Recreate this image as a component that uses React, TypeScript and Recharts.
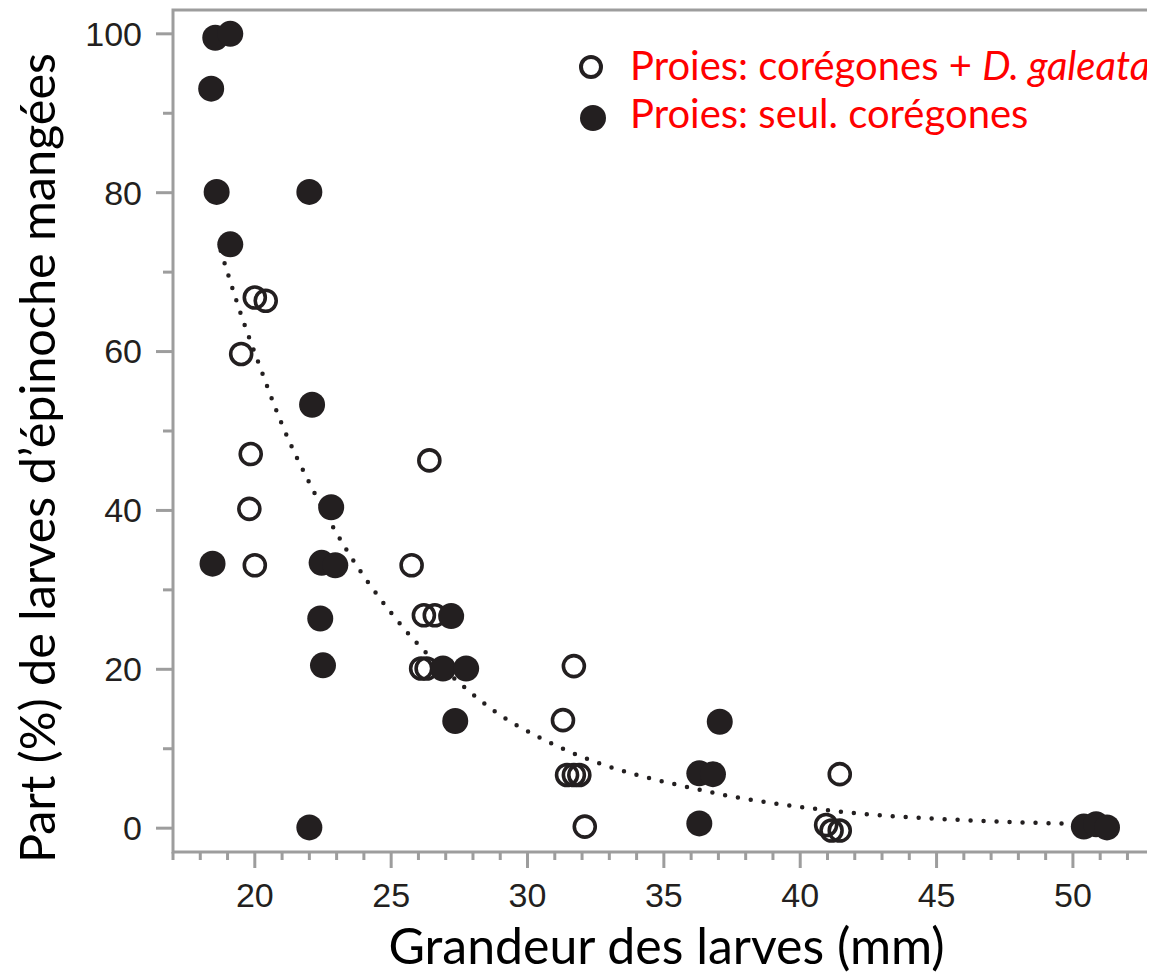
import React from "react";
import {
  ScatterChart,
  Scatter,
  XAxis,
  YAxis,
  ReferenceArea,
  Legend,
} from "recharts";

// Proies: corégones + D. galeata (open circles) — [size mm, % eaten]
const mixedPrey = [
  { x: 20.0, y: 66.8 },
  { x: 20.4, y: 66.4 },
  { x: 19.5, y: 59.7 },
  { x: 19.85, y: 47.1 },
  { x: 19.8, y: 40.2 },
  { x: 20.0, y: 33.1 },
  { x: 26.4, y: 46.3 },
  { x: 25.75, y: 33.1 },
  { x: 26.2, y: 26.8 },
  { x: 26.6, y: 26.8 },
  { x: 26.1, y: 20.1 },
  { x: 26.3, y: 20.1 },
  { x: 31.7, y: 20.4 },
  { x: 31.3, y: 13.6 },
  { x: 31.45, y: 6.7 },
  { x: 31.7, y: 6.7 },
  { x: 31.9, y: 6.7 },
  { x: 32.1, y: 0.2 },
  { x: 41.45, y: 6.8 },
  { x: 40.95, y: 0.4 },
  { x: 41.15, y: -0.3 },
  { x: 41.45, y: -0.3 },
];

// Proies: seul. corégones (filled circles)
const whitefishOnly = [
  { x: 18.55, y: 99.5 },
  { x: 19.1, y: 100 },
  { x: 18.4, y: 93.1 },
  { x: 18.6, y: 80.1 },
  { x: 22.0, y: 80.1 },
  { x: 19.1, y: 73.5 },
  { x: 22.1, y: 53.3 },
  { x: 22.8, y: 40.4 },
  { x: 18.45, y: 33.3 },
  { x: 22.45, y: 33.4 },
  { x: 22.95, y: 33.1 },
  { x: 22.4, y: 26.4 },
  { x: 22.5, y: 20.5 },
  { x: 22.0, y: 0.1 },
  { x: 27.2, y: 26.7 },
  { x: 26.9, y: 20.1 },
  { x: 27.75, y: 20.1 },
  { x: 27.35, y: 13.5 },
  { x: 37.05, y: 13.4 },
  { x: 36.3, y: 6.9 },
  { x: 36.8, y: 6.8 },
  { x: 36.3, y: 0.6 },
  { x: 50.4, y: 0.2 },
  { x: 50.85, y: 0.5 },
  { x: 51.25, y: 0.1 },
];

// dotted trend curve
const trend = [
  { x: 18.75, y: 72.7 },
  { x: 19.55, y: 64.1 },
  { x: 20.1, y: 58.9 },
  { x: 21.0, y: 50.8 },
  { x: 22.1, y: 42.8 },
  { x: 23.3, y: 35.4 },
  { x: 25.0, y: 27.1 },
  { x: 26.05, y: 22.9 },
  { x: 27.6, y: 18.0 },
  { x: 28.8, y: 14.7 },
  { x: 30.5, y: 11.3 },
  { x: 31.7, y: 9.4 },
  { x: 36.35, y: 4.8 },
  { x: 41.15, y: 2.2 },
  { x: 46.1, y: 1.0 },
  { x: 50.0, y: 0.55 },
];

const xTicks = [
  17, 18, 19, 20, 21, 22, 23, 24, 25, 26, 27, 28, 29, 30, 31, 32, 33, 34, 35,
  36, 37, 38, 39, 40, 41, 42, 43, 44, 45, 46, 47, 48, 49, 50, 51, 52,
];
const yTicks = [0, 10, 20, 30, 40, 50, 60, 70, 80, 90, 100];

const INK = "#231f20";
const AXIS = "#9d9d9d";
const TICK_FONT = "'Liberation Sans', Arial, sans-serif";
const LABEL_FONT = "Lato, 'Open Sans', sans-serif";

function XTick({ x, y, payload }: any) {
  const v = payload.value;
  const major = v % 5 === 0;
  return (
    <g>
      <line x1={x} x2={x} y1={y} y2={y + (major ? 16 : 8)} stroke={AXIS} strokeWidth={3} />
      {major ? (
        <text x={x} y={y + 55} textAnchor="middle" fontSize={34} fontFamily={TICK_FONT} fill={INK}>
          {v}
        </text>
      ) : null}
    </g>
  );
}

function YTick({ x, y, payload }: any) {
  const v = payload.value;
  const major = v % 20 === 0;
  return (
    <g>
      <line x1={x - (major ? 17 : 10)} x2={x} y1={y} y2={y} stroke={AXIS} strokeWidth={3} />
      {major ? (
        <text x={x - 31} y={y} dy="0.35em" textAnchor="end" fontSize={34} fontFamily={TICK_FONT} fill={INK}>
          {v}
        </text>
      ) : null}
    </g>
  );
}

function LegendBox() {
  return (
    <svg width={592} height={118} style={{ display: "block", background: "#fff" }}>
      <circle cx={26} cy={40} r={10} fill="#fff" stroke={INK} strokeWidth={4} />
      <circle cx={28} cy={91} r={13} fill={INK} />
      <text x={65} y={53} fontSize={40} fontFamily={LABEL_FONT} fill="#ff0000">
        Proies: corégones +{" "}
        <tspan fontStyle="italic">D. galeata</tspan>
      </text>
      <text x={65} y={101} fontSize={40} fontFamily={LABEL_FONT} fill="#ff0000">
        Proies: seul. corégones
      </text>
    </svg>
  );
}

export default function App() {
  return (
    <ScatterChart
      width={1147}
      height={968}
      margin={{ top: 2, right: 3, bottom: 0, left: 0 }}
    >
      <XAxis
        type="number"
        dataKey="x"
        domain={[17, 52.9]}
        ticks={xTicks}
        interval={0}
        allowDataOverflow
        height={124}
        tickSize={0}
        tickMargin={0}
        tickLine={false}
        axisLine={false}
        tick={<XTick />}
        label={{
          content: ({ viewBox }: any) => (
            <text
              x={viewBox.x + viewBox.width / 2 + 4}
              y={viewBox.y + 112}
              textAnchor="middle"
              fontSize={50}
              fontFamily={LABEL_FONT}
              fill="#000"
            >
              Grandeur des larves (mm)
            </text>
          ),
        }}
      />
      <YAxis
        type="number"
        dataKey="y"
        domain={[-3, 103]}
        ticks={yTicks}
        interval={0}
        allowDataOverflow
        width={165}
        tickSize={0}
        tickMargin={0}
        tickLine={false}
        axisLine={false}
        tick={<YTick />}
        label={{
          content: () => (
            <text
              x={47}
              y={450}
              transform="rotate(-90, 47, 450)"
              textAnchor="middle"
              fontSize={48.5}
              fontFamily={LABEL_FONT}
              fill="#000"
            >
              Part (%) de larves d’épinoche mangées
            </text>
          ),
        }}
      />
      <ReferenceArea
        x1={17}
        x2={52.9}
        y1={-3}
        y2={103}
        fill="none"
        fillOpacity={0}
        stroke={AXIS}
        strokeWidth={3}
      />
      <Scatter
        name="trend"
        data={trend}
        isAnimationActive={false}
        line={{
          stroke: INK,
          strokeWidth: 4.5,
          strokeDasharray: "0 13",
          strokeLinecap: "round",
        }}
        lineJointType="monotoneX"
        shape={() => <g />}
        legendType="none"
      />
      <Scatter
        name="Proies: corégones + D. galeata"
        data={mixedPrey}
        isAnimationActive={false}
        shape={(p: any) => (
          <circle cx={p.cx} cy={p.cy} r={10.5} fill="none" stroke={INK} strokeWidth={3.6} />
        )}
      />
      <Scatter
        name="Proies: seul. corégones"
        data={whitefishOnly}
        isAnimationActive={false}
        shape={(p: any) => <circle cx={p.cx} cy={p.cy} r={13} fill={INK} />}
      />
      <Legend
        layout="vertical"
        align="center"
        verticalAlign="middle"
        content={() => <LegendBox />}
        wrapperStyle={{ position: "absolute", top: 19, left: 557, width: 592 }}
      />
    </ScatterChart>
  );
}
